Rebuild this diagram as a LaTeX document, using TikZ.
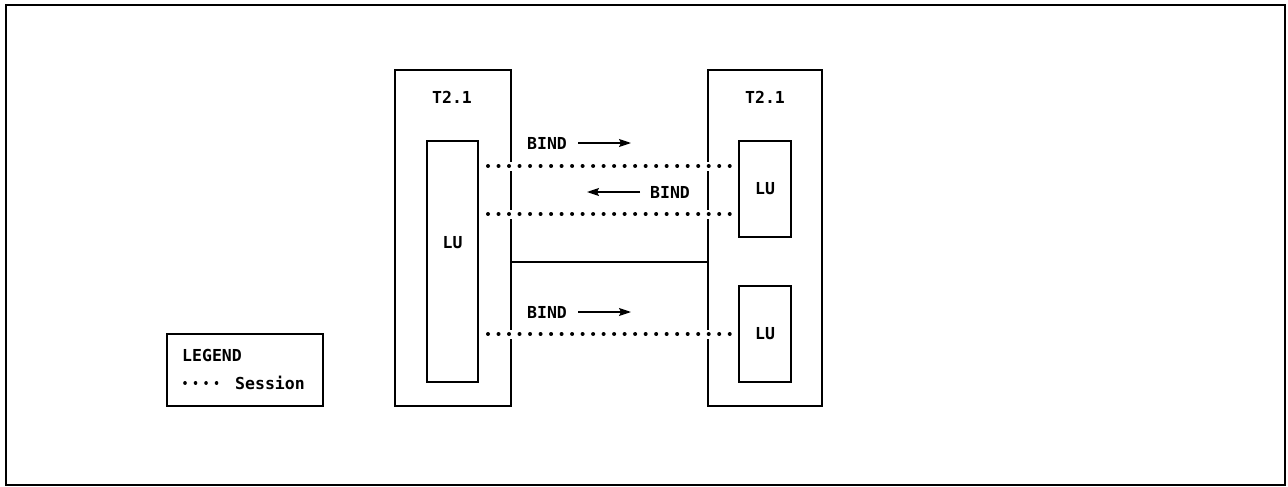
\documentclass[tikz,border=0pt]{standalone}
\usepackage{fontspec}
\setmonofont{DejaVu Sans Mono}
\usetikzlibrary{arrows.meta,calc}
\begin{document}
\begin{tikzpicture}[x=1pt,y=-1pt,
  lbl/.style={font=\ttfamily\bfseries\fontsize{16.5}{18}\selectfont, inner sep=0pt},
  box/.style={draw, line width=1.1pt, inner sep=0pt, minimum width=#1},
  gapline/.style={draw=white, line width=9pt, line cap=butt},
  session/.style={line width=4pt, line cap=round, dash pattern=on 0.01pt off 10.5pt},
  arr/.style={line width=1.3pt, -{Stealth[length=12pt,width=8pt,inset=2pt]}},
  frame/.style={draw, line width=1.5pt}]
\useasboundingbox (0,0) rectangle (1288,487);
\node[frame, minimum width=1279pt, minimum height=480pt, inner sep=0pt] (frame) at (645.5,245) {};
% T2.1 boxes
\node[box=116pt, minimum height=336pt] (tL) at (453,238) {};
\node[box=114pt, minimum height=336pt] (tR) at (765,238) {};
\node[lbl] (tLlbl) at (452,97) {T2.1};
\node[lbl] (tRlbl) at (765,97) {T2.1};
% LU boxes
\node[box=51pt, minimum height=241pt] (luL) at (452.5,261.5) {};
\node[lbl] (luLlbl) at (452.5,243) {LU};
\node[box=52pt, minimum height=96pt, lbl] (luR1) at (765,189) {LU};
\node[box=52pt, minimum height=96pt, lbl] (luR2) at (765,334) {LU};
% link between nodes
\coordinate (lnA) at (tL.east |- 0,262);
\coordinate (lnB) at (tR.west |- 0,262);
\draw[line width=1.1pt] (lnA) -- (lnB);
% sessions
\coordinate (s1a) at (488,166); \coordinate (s1b) at (730,166);
\coordinate (s2a) at (488,214); \coordinate (s2b) at (730,214);
\coordinate (s3a) at (488,334); \coordinate (s3b) at (730,334);
\draw[gapline] (s1a) -- (s1b);
\draw[gapline] (s2a) -- (s2b);
\draw[gapline] (s3a) -- (s3b);
\draw[session] (s1a) -- (s1b);
\draw[session] (s2a) -- (s2b);
\draw[session] (s3a) -- (s3b);
% BIND labels
\node[lbl] (b1) at (547,143) {BIND};
\coordinate (b1a) at (578,143); \coordinate (b1b) at (631,143);
\draw[arr] (b1a) -- (b1b);
\node[lbl] (b2) at (670,192) {BIND};
\coordinate (b2a) at (640,192); \coordinate (b2b) at (587,192);
\draw[arr] (b2a) -- (b2b);
\node[lbl] (b3) at (547,312) {BIND};
\coordinate (b3a) at (578,312); \coordinate (b3b) at (631,312);
\draw[arr] (b3a) -- (b3b);
% legend
\node[box=156pt, minimum height=72pt] (leg) at (245,370) {};
\node[lbl, anchor=west] (legt) at (182,355) {LEGEND};
\coordinate (ld1) at (185,383); \coordinate (ld2) at (217,383);
\draw[session, line width=3.6pt] (ld1) -- (ld2);
\node[lbl, anchor=west] (legs) at (235,383) {Session};
\end{tikzpicture}
\end{document}
